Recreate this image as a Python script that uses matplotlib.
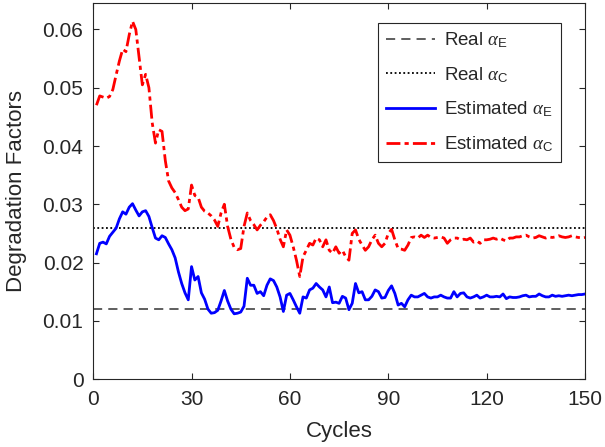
import matplotlib
matplotlib.use("Agg")
import matplotlib.pyplot as plt

plt.rcParams["font.family"] = ["Liberation Sans", "DejaVu Sans"]
plt.rcParams["mathtext.fontset"] = "custom"
plt.rcParams["mathtext.rm"] = "Liberation Sans"
plt.rcParams["mathtext.it"] = "Liberation Serif:italic"

# データ
cycles = list(range(1, 151))

real_alpha_e = 0.012
real_alpha_c = 0.026

est_alpha_c = [
    0.0470, 0.0486, 0.0484, 0.0482, 0.0485, 0.0497, 0.0522, 0.0546, 0.0566, 0.0562,
    0.0591, 0.0614, 0.0600, 0.0552, 0.0505, 0.0523, 0.0500, 0.0440, 0.0405, 0.0428,
    0.0425, 0.0375, 0.0340, 0.0328, 0.0320, 0.0308, 0.0295, 0.0289, 0.0292, 0.0333,
    0.0315, 0.0312, 0.0295, 0.0288, 0.0285, 0.0280, 0.0273, 0.0262, 0.0285, 0.0300,
    0.0262, 0.0240, 0.0226, 0.0222, 0.0224, 0.0262, 0.0285, 0.0272, 0.0265, 0.0256,
    0.0264, 0.0270, 0.0278, 0.0282, 0.0272, 0.0258, 0.0240, 0.0227, 0.0256, 0.0247,
    0.0227, 0.0204, 0.0176, 0.0210, 0.0221, 0.0233, 0.0230, 0.0242, 0.0239, 0.0227,
    0.0239, 0.0221, 0.0216, 0.0227, 0.0216, 0.0221, 0.0210, 0.0204, 0.0250, 0.0256,
    0.0240, 0.0230, 0.0221, 0.0227, 0.0239, 0.0247, 0.0233, 0.0227, 0.0233, 0.0250,
    0.0257, 0.0239, 0.0224, 0.0223, 0.0221, 0.0230, 0.0243, 0.0244, 0.0242, 0.0247,
    0.0243, 0.0247, 0.0243, 0.0242, 0.0243, 0.0244, 0.0242, 0.0233, 0.0239, 0.0242,
    0.0242, 0.0239, 0.0240, 0.0239, 0.0242, 0.0235, 0.0237, 0.0233, 0.0239, 0.0239,
    0.0240, 0.0242, 0.0240, 0.0242, 0.0239, 0.0237, 0.0242, 0.0242, 0.0244, 0.0244,
    0.0246, 0.0247, 0.0244, 0.0242, 0.0243, 0.0246, 0.0244, 0.0242, 0.0244, 0.0243,
    0.0244, 0.0246, 0.0244, 0.0243, 0.0244, 0.0246, 0.0244, 0.0243, 0.0242, 0.0243,
]

est_alpha_e = [
    0.0215, 0.0233, 0.0235, 0.0232, 0.0245, 0.0252, 0.0259, 0.0275, 0.0287, 0.0283,
    0.0295, 0.0301, 0.0290, 0.0280, 0.0287, 0.0289, 0.0279, 0.0260, 0.0242, 0.0239,
    0.0246, 0.0243, 0.0232, 0.0222, 0.0208, 0.0184, 0.0164, 0.0148, 0.0136, 0.0193,
    0.0170, 0.0176, 0.0148, 0.0137, 0.0120, 0.0113, 0.0114, 0.0118, 0.0134, 0.0152,
    0.0134, 0.0120, 0.0112, 0.0113, 0.0115, 0.0125, 0.0173, 0.0161, 0.0161, 0.0147,
    0.0150, 0.0143, 0.0161, 0.0172, 0.0169, 0.0158, 0.0141, 0.0116, 0.0144, 0.0147,
    0.0136, 0.0124, 0.0113, 0.0141, 0.0139, 0.0153, 0.0156, 0.0164, 0.0158, 0.0153,
    0.0141, 0.0158, 0.0131, 0.0132, 0.0130, 0.0142, 0.0139, 0.0119, 0.0130, 0.0164,
    0.0148, 0.0150, 0.0136, 0.0136, 0.0142, 0.0153, 0.0150, 0.0139, 0.0140, 0.0152,
    0.0160, 0.0147, 0.0127, 0.0130, 0.0124, 0.0136, 0.0144, 0.0141, 0.0141, 0.0144,
    0.0147, 0.0141, 0.0139, 0.0141, 0.0141, 0.0144, 0.0141, 0.0139, 0.0139, 0.0150,
    0.0141, 0.0147, 0.0148, 0.0141, 0.0139, 0.0141, 0.0144, 0.0139, 0.0141, 0.0144,
    0.0141, 0.0141, 0.0142, 0.0141, 0.0146, 0.0138, 0.0141, 0.0140, 0.0140, 0.0141,
    0.0143, 0.0144, 0.0141, 0.0142, 0.0142, 0.0146, 0.0143, 0.0141, 0.0141, 0.0144,
    0.0142, 0.0143, 0.0142, 0.0143, 0.0144, 0.0143, 0.0144, 0.0145, 0.0145, 0.0146,
]

x_ticks = [0, 30, 60, 90, 120, 150]
y_ticks = [0, 0.01, 0.02, 0.03, 0.04, 0.05, 0.06]
y_tick_labels = ["0", "0.01", "0.02", "0.03", "0.04", "0.05", "0.06"]

TXT = "#262626"

fig = plt.figure(figsize=(6.05, 4.47), dpi=100)
ax = fig.add_axes([0.154, 0.152, 0.813, 0.842])

ax.axhline(real_alpha_e, color="#333333", linestyle=(0, (6, 4)), linewidth=1.1,
           label=r"Real $\alpha_\mathrm{E}$")
ax.axhline(real_alpha_c, color="k", linestyle=(0, (1, 1.4)), linewidth=1.3,
           label=r"Real $\alpha_\mathrm{C}$")
ax.plot(cycles, est_alpha_e, color="#0000ff", linewidth=2.0,
        label=r"Estimated $\alpha_\mathrm{E}$")
ax.plot(cycles, est_alpha_c, color="#ff0000", linewidth=2.0,
        linestyle=(0, (5, 1.5, 1.5, 1.5)), label=r"Estimated $\alpha_\mathrm{C}$")

ax.set_xlim(0, 150)
ax.set_ylim(0, 0.0646)
ax.set_xticks(x_ticks)
ax.set_yticks(y_ticks)
ax.set_yticklabels(y_tick_labels)
ax.tick_params(direction="in", top=True, right=True, labelsize=15,
               colors=TXT, length=4)
ax.tick_params(axis="y", pad=7)
ax.tick_params(axis="x", pad=8)
for s in ax.spines.values():
    s.set_color(TXT)
    s.set_linewidth(0.8)

ax.set_xlabel("Cycles", fontsize=16, color=TXT)
ax.set_ylabel("Degradation Factors", fontsize=16, color=TXT)
ax.xaxis.set_label_coords(0.5, -0.112)
ax.yaxis.set_label_coords(-0.135, 0.5)

leg = ax.legend(loc="upper right", bbox_to_anchor=(0.9506, 0.9468),
                borderaxespad=0, fontsize=13.5, fancybox=False, framealpha=1,
                edgecolor=TXT, handlelength=2.6, handletextpad=0.5,
                labelspacing=0.8, borderpad=0.4)
leg.get_frame().set_linewidth(0.8)
for t in leg.get_texts():
    t.set_color(TXT)

fig.savefig("out.png", dpi=100)
plt.close(fig)
